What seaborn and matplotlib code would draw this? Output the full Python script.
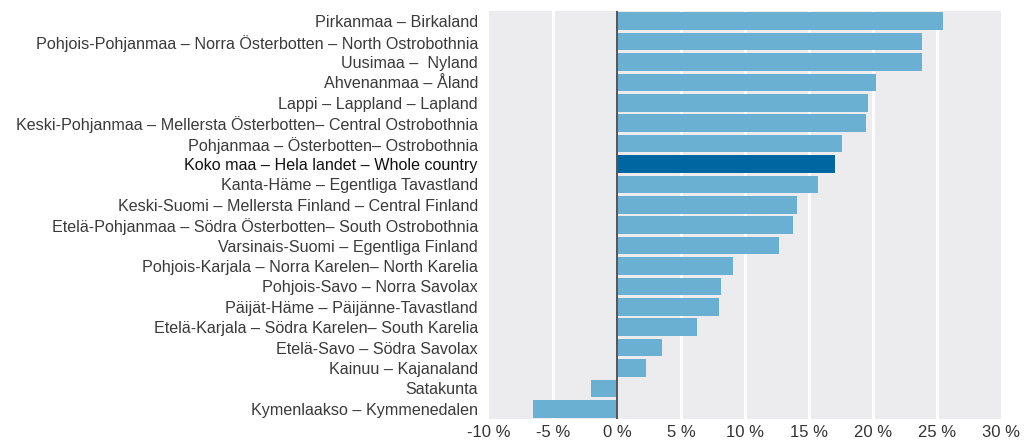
import matplotlib
matplotlib.use("Agg")
import matplotlib.pyplot as plt
import seaborn as sns
import pandas as pd

regions = [
    "Pirkanmaa – Birkaland",
    "Pohjois-Pohjanmaa – Norra Österbotten – North Ostrobothnia",
    "Uusimaa –  Nyland",
    "Ahvenanmaa – Åland",
    "Lappi – Lappland – Lapland",
    "Keski-Pohjanmaa – Mellersta Österbotten– Central Ostrobothnia",
    "Pohjanmaa – Österbotten– Ostrobothnia",
    "Koko maa – Hela landet – Whole country",
    "Kanta-Häme – Egentliga Tavastland",
    "Keski-Suomi – Mellersta Finland – Central Finland",
    "Etelä-Pohjanmaa – Södra Österbotten– South Ostrobothnia",
    "Varsinais-Suomi – Egentliga Finland",
    "Pohjois-Karjala – Norra Karelen– North Karelia",
    "Pohjois-Savo – Norra Savolax",
    "Päijät-Häme – Päijänne-Tavastland",
    "Etelä-Karjala – Södra Karelen– South Karelia",
    "Etelä-Savo – Södra Savolax",
    "Kainuu – Kajanaland",
    "Satakunta",
    "Kymenlaakso – Kymmenedalen",
]
change_pct = [25.5, 23.8, 23.8, 20.2, 19.6, 19.45, 17.6, 17.0, 15.7, 14.05,
              13.75, 12.65, 9.05, 8.1, 7.95, 6.25, 3.5, 2.3, -2.0, -6.6]
xticks = [-10, -5, 0, 5, 10, 15, 20, 25, 30]
xtick_labels = ["-10 %", "-5 %", "0 %", "5 %", "10 %", "15 %", "20 %", "25 %", "30 %"]
highlight = "Koko maa – Hela landet – Whole country"

light = "#6ab0d2"
dark = "#0066a1"

df = pd.DataFrame({"region": regions, "value": change_pct})
palette = {r: (dark if r == highlight else light) for r in regions}

sns.set_theme(style="white")
plt.rcParams["font.family"] = ["Liberation Sans", "DejaVu Sans"]

fig = plt.figure(figsize=(10.24, 4.43), dpi=100)
ax = fig.add_axes([489 / 1024, 1 - 419 / 443, 512 / 1024, 408 / 443])
ax.set_facecolor("#ececee")

sns.barplot(data=df, y="region", x="value", hue="region", palette=palette,
            order=regions, orient="h", width=0.86, legend=False, ax=ax,
            saturation=1, edgecolor="none")

ax.set_xlim(-10, 30)
ax.set_ylim(len(regions) - 0.5, -0.5)
ax.set_xticks(xticks)
ax.set_xticklabels(xtick_labels, fontsize=12, color="#333333")
for x in xticks:
    if x not in (-10, 0, 30):
        ax.axvline(x, color="white", lw=2.2, zorder=0.5)
ax.axvline(0, color="#555555", lw=1.4, zorder=3)
ax.set_axisbelow(True)
ax.set_xlabel("")
ax.set_ylabel("")
for s in ax.spines.values():
    s.set_visible(False)
ax.tick_params(axis="y", length=0, pad=8, labelsize=11.6)
ax.tick_params(axis="x", length=0, pad=4)
for lab in ax.get_yticklabels():
    if lab.get_text() == highlight:
        lab.set_color("#111111")
        lab.set_fontweight("medium")
    else:
        lab.set_color("#3a3a3a")

fig.savefig("out.png", dpi=100)
